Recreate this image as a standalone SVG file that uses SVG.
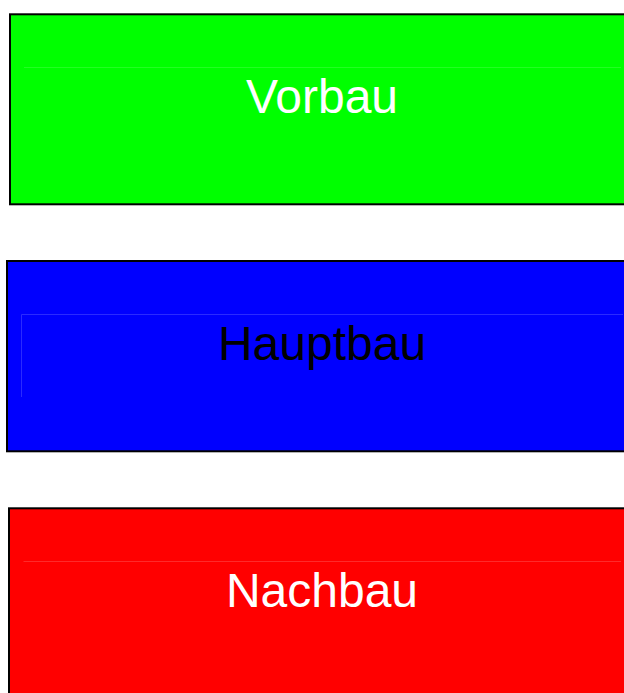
<svg xmlns="http://www.w3.org/2000/svg" width="624" height="693" viewBox="0 0 624 693">
<style>
.box{stroke:#000;stroke-width:2}
.lbl{font-family:"Liberation Sans",Arial,sans-serif;font-size:48px;text-anchor:middle}
.faint{fill:none;stroke-width:1}
</style>
<rect width="624" height="693" fill="#fff"/>
<g id="vorbau">
<rect class="box" x="10" y="14.3" width="640" height="190" fill="#00ff00"/>
<line class="faint" x1="24" y1="67.5" x2="621" y2="67.5" stroke="#22ff22"/>
<text class="lbl" x="322" y="113" fill="#fff">Vorbau</text>
</g>
<g id="hauptbau">
<rect class="box" x="7" y="261" width="640" height="190.3" fill="#0000ff"/>
<polyline class="faint" points="21.5,397 21.5,314.5 623,314.5" stroke="#2a2aff"/>
<text class="lbl" x="322" y="360" fill="#000">Hauptbau</text>
</g>
<g id="nachbau">
<rect class="box" x="9" y="508.3" width="640" height="200" fill="#ff0000"/>
<line class="faint" x1="23.5" y1="561.5" x2="621" y2="561.5" stroke="#ff2a2a"/>
<text class="lbl" x="322" y="607" fill="#fff">Nachbau</text>
</g>
<g id="connectors"></g>
</svg>
